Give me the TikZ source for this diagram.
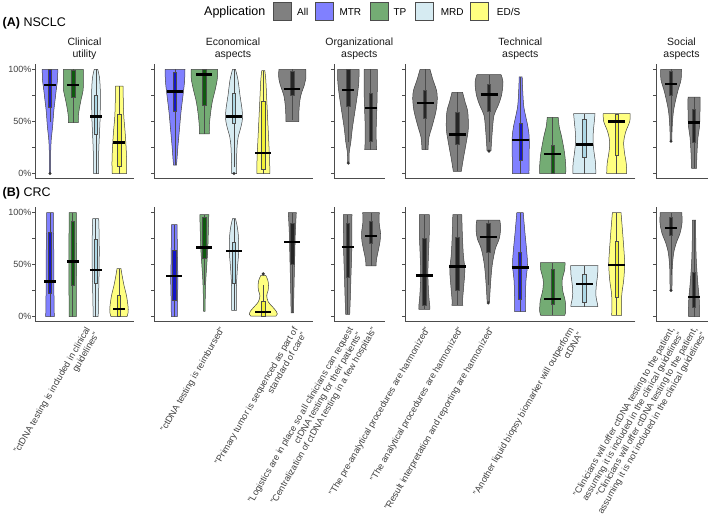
\documentclass[tikz,border=0pt]{standalone}
\usepackage{fontspec}
\setmainfont{Liberation Sans}
\definecolor{cAll}{HTML}{808080}
\definecolor{cMTR}{HTML}{8080FF}
\definecolor{cTP}{HTML}{74AC74}
\definecolor{cMRD}{HTML}{D6EBF2}
\definecolor{cEDS}{HTML}{FFFF80}
\definecolor{sAll}{HTML}{262626}
\definecolor{sMTR}{HTML}{1414C8}
\definecolor{sTP}{HTML}{0E5A0E}
\definecolor{sMRD}{HTML}{ADD8E6}
\definecolor{sEDS}{HTML}{F2F235}
\def\vsc{1.04}
\def\vyz{173.5}
\def\vhb{6}
\newcommand\vio[3]{%
  \gdef\vR{}\gdef\vL{}%
  \foreach \vp/\vw in {#3}{%
    \pgfmathsetmacro\vyy{\vyz-\vsc*\vp}%
    \pgfmathsetmacro\vxr{#2+\vw}%
    \pgfmathsetmacro\vxl{#2-\vw}%
    \xdef\vR{\vR(\vxr,\vyy)}%
    \xdef\vL{(\vxl,\vyy)\vL}%
  }%
  \edef\vtmp{\noexpand\draw[violin,fill=#1] plot[smooth,tension=0.55] coordinates {\vR} -- plot[smooth,tension=0.55] coordinates {\vL} -- cycle;}%
  \vtmp
}
\newcommand\bxp[6]{%
  \draw[whisk] (#2,{\vyz-\vsc*#3}) -- (#2,{\vyz-\vsc*#6});
  \draw[boxst,fill=#1] ({#2-1.6},{\vyz-\vsc*#4}) rectangle ({#2+1.6},{\vyz-\vsc*#5});
}
\newcommand\V[9]{\vio{#1}{#3}{#4}\bxp{#2}{#3}{#5}{#6}{#8}{#9}%
  \draw[med] ({#3-\vhb},{\vyz-\vsc*#7}) -- ({#3+\vhb},{\vyz-\vsc*#7});}
\newcommand\outp[2]{\fill[outl] (#1,{\vyz-\vsc*#2}) circle[radius=1.7pt];}
\newcommand\faxis[2]{%
  \draw[axis] (#1,{\vyz-\vsc*105}) -- (#1,{\vyz+\vsc*5}) -- (#2,{\vyz+\vsc*5});
  \foreach \vt in {0,25,50,75,100}{\draw[axis] ({#1-3},{\vyz-\vsc*\vt}) -- (#1,{\vyz-\vsc*\vt});}
}
\begin{document}
\begin{tikzpicture}[x=1pt,y=-1pt,
  violin/.style={draw=black!75,line width=0.5pt,line join=round},
  boxst/.style={draw=black!70,line width=0.5pt},
  whisk/.style={draw=black!70,line width=0.6pt},
  med/.style={draw=black,line width=2.4pt},
  outl/.style={fill=black!80},
  axis/.style={draw=black!70,line width=0.9pt,line cap=rect},
  ticklab/.style={font=\fontsize{9}{10}\selectfont,text=black!75,inner sep=0pt,anchor=mid east},
  ftitle/.style={font=\fontsize{10.5}{11.5}\selectfont,text=black!90,inner sep=0pt,anchor=base},
  legkey/.style={draw=black!70,line width=0.5pt},
  leglab/.style={font=\fontsize{10}{12}\selectfont,inner sep=0pt,anchor=base west},
  ptitle/.style={font=\fontsize{12.5}{14}\selectfont,inner sep=0pt,anchor=base west},
  xlab/.style={rotate=60,anchor=north east,align=right,inner sep=0pt,font=\fontsize{9.1}{10}\selectfont,text=black!75}]
\useasboundingbox (0,0) rectangle (709,532);

% legend
\node[ptitle,anchor=base west] (legt) at (204,15.5) {Application};
\draw[legkey,fill=cAll] (273,2.7) rectangle (291,20.7);
\node[leglab] (lgAll) at (297,15.3) {All};
\draw[legkey,fill=cMTR] (315,2.7) rectangle (333,20.7);
\node[leglab] (lgMTR) at (339.3,15.3) {MTR};
\draw[legkey,fill=cTP] (370,2.7) rectangle (388,20.7);
\node[leglab] (lgTP) at (393.3,15.3) {TP};
\draw[legkey,fill=cMRD] (415,2.7) rectangle (433,20.7);
\node[leglab] (lgMRD) at (440.7,15.3) {MRD};
\draw[legkey,fill=cEDS] (470,2.7) rectangle (488,20.7);
\node[leglab] (lgEDS) at (496.7,15.3) {ED/S};

% panel titles
\node[ptitle] (pA) at (2.5,26.5) {\textbf{(A)} NSCLC};
\node[ptitle] (pB) at (2.5,196.5) {\textbf{(B)} CRC};

% facet titles
\node[ftitle] (f1a) at (84.5,46) {Clinical};
\node[ftitle] (f1b) at (84.5,57.5) {utility};
\node[ftitle] (f2a) at (233,46) {Economical};
\node[ftitle] (f2b) at (233,57.5) {aspects};
\node[ftitle] (f3a) at (359.3,46) {Organizational};
\node[ftitle] (f3b) at (359.3,57.5) {aspects};
\node[ftitle] (f4a) at (520.3,46) {Technical};
\node[ftitle] (f4b) at (520.3,57.5) {aspects};
\node[ftitle] (f5a) at (681.5,46) {Social};
\node[ftitle] (f5b) at (681.5,57.5) {aspects};

% ================= PANEL A =================
\def\vyz{173.5}
\faxis{35.7}{133.3}\faxis{154}{312.3}\faxis{334.3}{384.3}\faxis{405.7}{635}\faxis{656.7}{707.3}
\node[ticklab] (ya100) at (31.5,{\vyz-\vsc*100}) {100\%};
\node[ticklab] (ya50) at (31.5,{\vyz-\vsc*50}) {50\%};
\node[ticklab] (ya0) at (31.5,{\vyz}) {0\%};

\def\vhb{5.9}
\V{cMTR}{sMTR}{50}{100/7.8,90/7.5,80/6.2,70/5,60/3.8,45/2.6,32/1.2,20/0.7,0/0.7}{50}{64}{85}{100}{100}
\outp{50}{0}
\V{cTP}{sTP}{73.3}{100/10,90/10,80/9.8,72/8,62/6,55/5,49/5}{49}{73}{85}{99}{100}
\V{cMRD}{sMRD}{96}{100/1.8,92/3.5,80/4.3,65/4.3,50/4,35/3.3,20/2.7,0/2.5}{0}{38}{55}{75}{100}
\V{cEDS}{sEDS}{119.3}{84/3.8,70/4,55/4.5,40/5.8,25/6.8,12/7.3,0/7.2}{0}{7}{30}{57}{84}

\def\vhb{8}
\V{cMTR}{sMTR}{175}{100/10,88/9.5,75/8,59/6,43/4.5,27/3,14/2,8/1.5}{8}{60}{79}{97}{100}
\V{cTP}{sTP}{204.3}{100/13.3,91/13,81/11,69/8,56/6,45/5,38/5}{38}{66}{95}{100}{100}
\V{cMRD}{sMRD}{234}{100/1.5,90/4,75/6,62/8,53/8.5,45/7,35/4.2,25/3,10/2.5,0/2.5}{6}{48}{55}{77}{100}
\outp{234}{0}
\V{cEDS}{sEDS}{263.3}{99/1.5,90/2.5,70/3.5,50/4.5,30/5.5,15/6.2,5/6.5,0/6.5}{0}{4}{20}{69}{99}
\V{cAll}{sAll}{292.3}{100/13.5,91/13.5,85/12,75/8.5,65/7,56/6.5,50/6.5}{51}{75}{81}{98}{100}

\def\vhb{6}
\V{cAll}{sAll}{348.3}{100/10.8,88/10.5,75/9,59/6.5,43/4,30/2.5,21/1,11/0.7}{30}{65}{80}{100}{100}
\outp{348.3}{10}
\V{cAll}{sAll}{370.7}{100/6.7,91/6.6,75/6.5,59/6,43/5.5,30/5.6,23/6}{23}{31}{63}{77}{100}

\def\vhb{8.5}
\V{cAll}{sAll}{425}{100/5,90/8,80/11.5,72/12.3,60/11,45/7,35/4,23/3}{23}{53}{68}{80}{100}
\V{cAll}{sAll}{457.3}{78/5.3,68/8,59/10.5,43/11,30/9,14/6,2/4}{2}{28}{37.5}{59}{78}
\V{cAll}{sAll}{489}{95/12,88/14,75/12.5,65/9,56/5,43/3.5,30/2.5,22/2}{30}{60}{76}{86}{95}
\outp{489}{21.5}
\V{cMTR}{sMTR}{520.7}{93/1.5,80/2,65/3,55/5,45/7.2,35/8.5,20/8.5,5/8.3,0/8.3}{0}{13}{32}{48}{93}
\V{cTP}{sTP}{552.7}{54/5.5,45/6.5,35/9,20/11.8,8/13,0/13}{0}{0}{19}{27}{54}
\V{cMRD}{sMRD}{584.3}{57.5/10.7,50/10,40/9,30/8.8,20/9.8,10/11.2,0/11.5}{0}{16}{28}{52}{57.5}
\V{cEDS}{sEDS}{616.7}{57.5/13.5,50/13,40/9,30/7,20/7.8,10/9.5,0/10}{0}{17.6}{50}{57}{57.5}

\def\vhb{5.9}
\V{cAll}{sAll}{671}{100/10.5,90/10,80/7,70/4.5,60/2.5,50/1.5,40/1,32/0.8}{40}{75}{86}{98}{100}
\outp{671}{31}
\V{cAll}{sAll}{694}{73.5/6,60/6,45/5.5,35/4,20/3,5/2.5}{5}{30}{49}{62}{73.5}

% ================= PANEL B =================
\def\vyz{316.5}
\faxis{35.7}{133.3}\faxis{154}{312.3}\faxis{334.3}{384.3}\faxis{405.7}{635}\faxis{656.7}{707.3}
\node[ticklab] (yb100) at (31.5,{\vyz-\vsc*100}) {100\%};
\node[ticklab] (yb50) at (31.5,{\vyz-\vsc*50}) {50\%};
\node[ticklab] (yb0) at (31.5,{\vyz}) {0\%};

\def\vhb{5.9}
\V{cMTR}{sMTR}{50}{100/3.3,80/3.5,60/3.8,40/3.8,20/4,0/4.3}{0}{22.5}{33.5}{80.7}{100}
\V{cTP}{sTP}{72.7}{100/3.7,80/3.7,60/3.9,40/3.8,20/3.7,0/3.7}{0}{30}{53}{92}{100}
\V{cMRD}{sMRD}{95.7}{94/3,75/3.5,50/3.5,25/3,0/2.5}{0}{32}{44.5}{74}{94}
\V{cEDS}{sEDS}{119}{46/2,40/3,30/5,20/7.5,10/9,4/9.2,0/8}{0}{0}{7}{20}{46}

\def\vhb{8}
\V{cMTR}{sMTR}{174.3}{88.4/2.8,70/3,50/3.3,35/3.6,15/3.2,0/3}{0}{16}{39}{64}{88.4}
\V{cTP}{sTP}{204.3}{98/4.5,80/4,65/3.5,50/2.5,35/1.5,20/1,5/0.8}{30}{55.6}{66.5}{95}{98}
\V{cMRD}{sMRD}{234}{94/1.5,85/3.5,75/4.5,60/4.5,45/3.3,30/2.5,15/2.3,6/2.5}{6}{32}{62.7}{71}{94}
\V{cEDS}{sEDS}{263.3}{39.5/2.5,35/4.5,30/5.2,25/4.8,20/3.4,14/5,9/9.5,5/13,2.5/14,0.3/12.5}{0}{0}{4.2}{15}{30}
\outp{263.3}{41}
\V{cAll}{sAll}{292.3}{100/4,80/3,60/2.5,40/2,20/1.5,3.5/1.2}{3.5}{50}{71.7}{90}{100}

\def\vhb{6}
\V{cAll}{sAll}{347.7}{98/4.3,80/4.2,60/4,40/3.3,20/2.7,2/2}{2}{38}{67}{89.4}{98}
\V{cAll}{sAll}{371}{100/8.3,90/8.2,80/9.5,72/9,62/7,55/5.5,48.6/5}{48.6}{70}{77.5}{92}{100}

\def\vhb{8.5}
\V{cAll}{sAll}{424.3}{98/5,80/5,60/4.2,40/3.6,20/4.5,10/5.5,6.8/5.5}{6.8}{10.6}{39.5}{75}{98}
\V{cAll}{sAll}{457.3}{98/4.5,80/5,60/6,45/7.5,30/6.5,15/5.2,10.6/5.5}{10.6}{25}{48.2}{76.5}{98}
\V{cAll}{sAll}{488.3}{92.6/11.5,85/12.3,75/11,65/7,50/4,35/2.5,20/1.5,14/1.2}{30}{62}{76.5}{90}{92.6}
\outp{488.3}{13}
\V{cMTR}{sMTR}{520}{100/3.2,80/5,65/6.5,50/7.5,35/6,20/5.5,4.8/5.5}{4.8}{17}{47.3}{62}{100}
\V{cTP}{sTP}{552.7}{51.8/12.3,45/12,35/9.5,25/10,15/12.5,5/13,1/12}{1}{12}{17}{45}{51.8}
\V{cMRD}{sMRD}{584.3}{49/13.7,40/13.3,30/12,20/11.6,12/13.2,9.6/13.5}{9.6}{14}{31.5}{41}{49}
\V{cEDS}{sEDS}{616.7}{100/4.3,80/6,60/7.5,50/8,35/7,20/5,1/5}{1}{18.6}{49.8}{72}{100}

\def\vhb{5.9}
\V{cAll}{sAll}{671}{100/10.8,90/11,80/9,70/5,60/2.5,45/1.2,30/1,25/0.8}{40}{78}{85.2}{95}{100}
\outp{671}{25}
\V{cAll}{sAll}{694}{92.6/1.7,70/1.8,50/2.5,30/4,20/5,10/5.5,0/5.5}{0}{9}{19}{42.8}{92.6}

% x labels
\node[xlab] (l1) at (84.7,326) {"ctDNA testing is included in clinical\\guidelines"};
\node[xlab] (l2) at (219,326) {"ctDNA testing is reimbursed"};
\node[xlab] (l3) at (292.3,326) {"Primary tumor is sequenced as part of\\standard of care"};
\node[xlab] (l4) at (347.7,326) {"Logistics are in place so all clinicians can request\\ctDNA testing for their patients"};
\node[xlab] (l5) at (371,326) {"Centralization of ctDNA testing in a few hospitals"};
\node[xlab] (l6) at (424.3,326) {"The pre-analytical procedures are harmonized"};
\node[xlab] (l7) at (457.3,326) {"The analytical procedures are harmonized"};
\node[xlab] (l8) at (488.3,326) {"Result interpretation and reporting are harmonized"};
\node[xlab] (l9) at (568.5,326) {"Another liquid biopsy biomarker will outperform\\ctDNA"};
\node[xlab] (l10) at (669,326) {"Clinicians will offer ctDNA testing to the patient,\\assuming it is included in the clinical guidelines"};
\node[xlab] (l11) at (692,326) {"Clinicians will offer ctDNA testing to the patient,\\assuming it is not included in the clinical guidelines"};
\end{tikzpicture}
\end{document}
